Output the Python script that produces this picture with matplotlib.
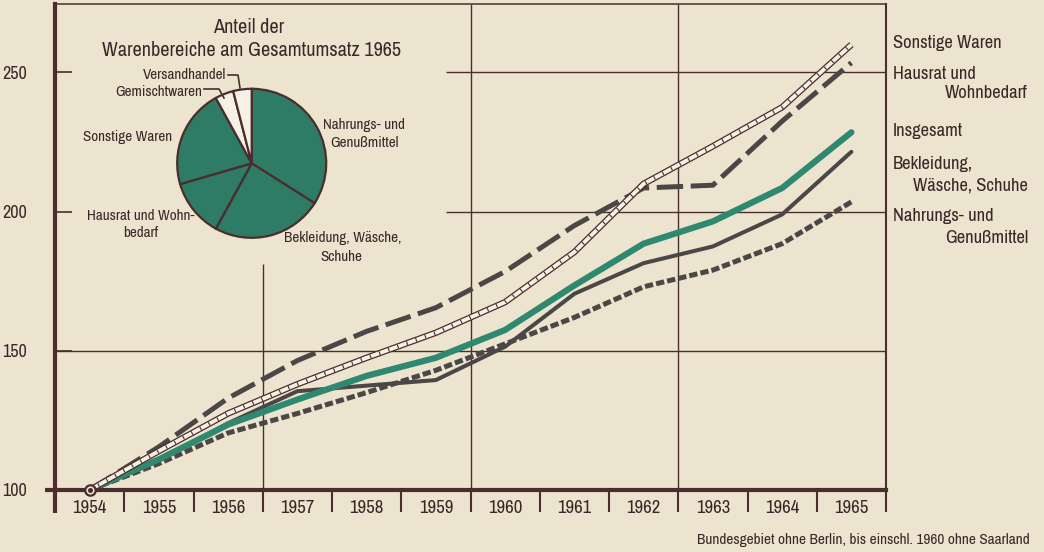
import matplotlib
matplotlib.use('Agg')
import matplotlib.pyplot as plt
from matplotlib.lines import Line2D

# ---------------- data ----------------
years = [1954, 1955, 1956, 1957, 1958, 1959, 1960, 1961, 1962, 1963, 1964, 1965]
sonstige_waren = [100, 114, 127.5, 138, 147.5, 156.5, 167.5, 185.5, 210, 223.5, 237.5, 260]
hausrat = [100, 115.5, 133, 146.5, 157, 165.5, 178.5, 195, 208.5, 209.5, 232.5, 253.5]
insgesamt = [100, 111, 123.5, 132.5, 141, 147.5, 157.5, 173.5, 188.5, 196.5, 208.5, 228.5]
bekleidung = [100, 110.5, 124, 135.5, 137.5, 139.5, 151.5, 170.5, 181.5, 187.5, 199, 221.5]
nahrung = [100, 109.5, 120.5, 127.5, 135, 143, 152.5, 162, 173, 179, 188.5, 203.5]

yticks = [100, 150, 200, 250]
year_labels = [str(y) for y in years]

pie_names = ['Nahrungs- und Genußmittel', 'Bekleidung, Wäsche, Schuhe',
             'Hausrat und Wohnbedarf', 'Sonstige Waren', 'Gemischtwaren',
             'Versandhandel']
pie_shares = [34, 24, 12.5, 21.5, 4, 4]

# ---------------- style ----------------
W, H = 1044, 552
BG = '#ECE4CF'
INK = '#4A2D2D'
TXT = '#3A2828'
GREEN = '#2F8870'
PIEGREEN = '#2E7C66'
DARK = '#4B4747'
WHITE = '#F6F1E4'

plt.rcParams['font.family'] = ['Archivo Narrow', 'DejaVu Sans']
plt.rcParams['lines.scale_dashes'] = False

fig = plt.figure(figsize=(W / 100, H / 100), dpi=100, facecolor=BG)


def fx(px):
    return px / W


def fy(py):
    return 1 - py / H


X0, X1 = 1953.5, 1965.5
Y0, Y1 = 100, 274.6
ppx = (886 - 55) / (X1 - X0)   # pixels per year
ppy = (490 - 4) / (Y1 - Y0)    # pixels per index point

ax = fig.add_axes([fx(55), fy(490), (886 - 55) / W, (490 - 4) / H])
ax.set_facecolor(BG)
ax.set_xlim(X0, X1)
ax.set_ylim(Y0, Y1)

# grid (partly hidden behind the pie inset in the original)
gkw = dict(color=INK, lw=1.0, zorder=1, solid_capstyle='butt')
ax.plot([X0, X1], [150, 150], **gkw)
xg = X0 + (446 - 55) / ppx
for v in (200, 250):
    ax.plot([xg, X1], [v, v], **gkw)
ax.plot([1956.5, 1956.5], [Y0, Y0 + (490 - 264) / ppy], **gkw)
for xv in (1959.5, 1962.5):
    ax.plot([xv, xv], [Y0, Y1], **gkw)

# series
ax.plot(years, nahrung, color=DARK, lw=3.6, dashes=(6, 2.2),
        dash_capstyle='butt', zorder=3)
ax.plot(years, bekleidung, color=DARK, lw=2.9, zorder=4,
        solid_capstyle='round')
ax.plot(years, insgesamt, color=GREEN, lw=4.5, zorder=5,
        solid_capstyle='round')
ax.plot(years, hausrat, color=DARK, lw=3.6, dashes=(19, 5.5),
        dash_capstyle='butt', zorder=6)
# ladder style line (Sonstige Waren)
ax.plot(years, sonstige_waren, color=INK, lw=4.6, zorder=7,
        solid_capstyle='butt')
ax.plot(years, sonstige_waren, color=WHITE, lw=2.8, zorder=8,
        solid_capstyle='butt')
ax.plot(years, sonstige_waren, color=INK, lw=2.8, dashes=(0.8, 6.2),
        dash_capstyle='butt', zorder=9)

# base point marker 1954
ax.plot(years[0], insgesamt[0], 'o', ms=7.5, mfc=BG, mec=INK, mew=1.6,
        zorder=12, clip_on=False)
ax.plot(years[0], insgesamt[0], 'o', ms=3.6, mfc=INK, mec=INK, mew=0,
        zorder=13, clip_on=False)

# spines
for s in ax.spines.values():
    s.set_color(INK)
ax.spines['left'].set_linewidth(3)
ax.spines['bottom'].set_linewidth(3)
ax.spines['right'].set_linewidth(1.5)
ax.spines['top'].set_linewidth(1.1)
ax.spines['bottom'].set_zorder(11)

# extensions of the axes below/left
ext = 23 / ppy
ax.plot([X0, X0], [Y0, Y0 - ext], color=INK, lw=3, clip_on=False,
        solid_capstyle='butt', zorder=11)
ax.plot([X0 - 10 / ppx, X0], [Y0, Y0], color=INK, lw=3, clip_on=False,
        solid_capstyle='butt', zorder=11)

# ticks
ax.set_xticks([y + 0.5 for y in years])
ax.set_xticks(years, minor=True)
ax.set_xticklabels(year_labels, minor=True)
ax.tick_params(axis='x', which='major', direction='out', length=16,
               width=1.5, color=INK, labelbottom=False)
ax.tick_params(axis='x', which='minor', length=0, pad=7.5, labelsize=13.5,
               labelcolor=TXT)
ax.set_yticks(yticks)
ax.set_yticklabels([str(v) for v in yticks])
ax.tick_params(axis='y', direction='in', length=12, width=1.2, color=INK,
               pad=20, labelsize=13, labelcolor=TXT)

# right-hand series labels
rl = dict(fontsize=13.3, color=TXT, va='center')
fig.text(fx(893), fy(43), 'Sonstige Waren', ha='left', **rl)
fig.text(fx(893), fy(74), 'Hausrat und', ha='left', **rl)
fig.text(fx(1028), fy(93), 'Wohnbedarf', ha='right', **rl)
fig.text(fx(893), fy(131), 'Insgesamt', ha='left', **rl)
fig.text(fx(893), fy(164), 'Bekleidung,', ha='left', **rl)
fig.text(fx(1028), fy(186), 'Wäsche, Schuhe', ha='right', **rl)
fig.text(fx(893), fy(216), 'Nahrungs- und', ha='left', **rl)
fig.text(fx(1028), fy(238), 'Genußmittel', ha='right', **rl)

# footer
fig.text(fx(1030), fy(540),
         'Bundesgebiet ohne Berlin, bis einschl. 1960 ohne Saarland',
         ha='right', va='center', fontsize=11, color=TXT)

# ---------------- pie inset ----------------
cx, cy, r = 251.7, 163.3, 76
pax = fig.add_axes([fx(cx - r), fy(cy + r), 2 * r / W, 2 * r / H])
pax.pie(pie_shares, colors=[PIEGREEN] * 4 + [WHITE] * 2, startangle=90,
        counterclock=False, radius=1,
        wedgeprops=dict(edgecolor=INK, linewidth=1.6))
pax.set_xlim(-1.02, 1.02)
pax.set_ylim(-1.02, 1.02)
pax.patch.set_visible(False)

tl = dict(fontsize=14.6, color=TXT, va='center', ha='center')
fig.text(fx(249), fy(27.5), 'Anteil der', **tl)
fig.text(fx(252), fy(51), 'Warenbereiche am Gesamtumsatz 1965', **tl)

pl = dict(fontsize=10.9, color=TXT, va='center')
fig.text(fx(226), fy(75), 'Versandhandel', ha='right', **pl)
fig.text(fx(202), fy(92), 'Gemischtwaren', ha='right', **pl)
fig.text(fx(172), fy(137), 'Sonstige Waren', ha='right', **pl)
fig.text(fx(364), fy(125), 'Nahrungs- und', ha='center', **pl)
fig.text(fx(364), fy(143), 'Genußmittel', ha='center', **pl)
fig.text(fx(141), fy(216), 'Hausrat und Wohn-', ha='center', **pl)
fig.text(fx(141), fy(233), 'bedarf', ha='center', **pl)
fig.text(fx(343), fy(238), 'Bekleidung, Wäsche,', ha='center', **pl)
fig.text(fx(341), fy(257), 'Schuhe', ha='center', **pl)

lk = dict(color=INK, lw=1.2)
fig.add_artist(Line2D([fx(228), fx(238), fx(240)], [fy(75), fy(75), fy(88)], **lk))
fig.add_artist(Line2D([fx(204), fx(219), fx(224)], [fy(89), fy(89), fy(98)], **lk))

fig.savefig('out.png', dpi=100, facecolor=BG)
